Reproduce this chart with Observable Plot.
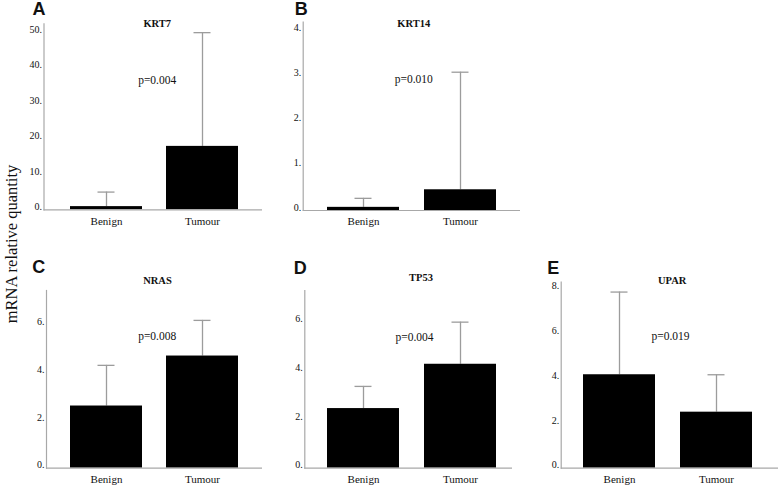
<!DOCTYPE html>
<html>
<head>
<meta charset="utf-8">
<script src="https://cdn.jsdelivr.net/npm/d3@7"></script>
<script src="https://cdn.jsdelivr.net/npm/@observablehq/plot@0.6"></script>
<style>
  html, body { margin: 0; padding: 0; background: #fff; }
  #chart { position: relative; width: 778px; height: 489px; overflow: hidden; background: #fff; }
  #chart svg { position: absolute; left: 0; top: 0; }
  #chart svg text { font-family: "Liberation Serif", "Times New Roman", serif; }
  #chart svg g.letter text { font-family: "Liberation Sans", Arial, sans-serif; }
  #ytitle {
    position: absolute; left: 12px; top: 244px;
    transform: translate(-50%, -50%) rotate(-90deg);
    font-family: "Liberation Serif", "Times New Roman", serif;
    font-size: 16.5px; color: #111; white-space: nowrap;
  }
</style>
</head>
<body>
<div id="chart"><div id="ytitle">mRNA relative quantity</div></div>
<script>
// ---- data ----
const genes = ["KRT7", "KRT14", "NRAS", "TP53", "UPAR"];
const panelLetters = ["A", "B", "C", "D", "E"];
const groups = ["Benign", "Tumour"];
const benignMean = [0.9, 0.07, 2.6, 2.45, 4.17];
const tumourMean = [17.9, 0.46, 4.69, 4.27, 2.5];
const benignUpper = [5.0, 0.27, 4.3, 3.36, 7.86];
const tumourUpper = [50.0, 3.07, 6.18, 6.0, 4.17];
const pLabels = ["p=0.004", "p=0.010", "p=0.008", "p=0.004", "p=0.019"];
const yTicks = [[0, 10, 20, 30, 40, 50], [0, 1, 2, 3, 4], [0, 2, 4, 6], [0, 2, 4, 6], [0, 2, 4, 6, 8]];
const yMax = [52.5, 4.18, 7.43, 7.3, 8.3];

// ---- layout (page pixels) ----
const W = 778, H = 489;
const layout = [
  {L: 43.5, R: 262, T: 23.3, B: 209.3, il: 26.5, ir: 23.7, title: [156.7, 23.3], p: [156.7, 80], letter: [32, 15]},
  {L: 302.7, R: 520, T: 21.7, B: 210, il: 24, ir: 23.3, title: [413.3, 23.3], p: [413.3, 79], letter: [294.3, 15]},
  {L: 46, R: 262, T: 290, B: 467.7, il: 23.3, ir: 24.7, title: [157, 280], p: [156.7, 335.7], letter: [31.7, 273]},
  {L: 304.3, R: 512, T: 290, B: 467.7, il: 22.4, ir: 16, title: [420.5, 277], p: [414, 337.3], letter: [293.3, 274]},
  {L: 560.7, R: 778, T: 281.7, B: 467.7, il: 22, ir: 25.7, title: [671.7, 280], p: [670, 335.7], letter: [546.7, 274]}
];

const serif = "'Liberation Serif', 'Times New Roman', serif";
const sans = "'Liberation Sans', Arial, sans-serif";
const grey = "#9c9c9c";

function panel(i) {
  const lay = layout[i];
  const rows = groups.map((g, j) => ({
    group: g,
    mean: j ? tumourMean[i] : benignMean[i],
    upper: j ? tumourUpper[i] : benignUpper[i]
  }));
  const at = (pt) => ({dx: pt[0] - lay.L, dy: pt[1] - lay.T});
  return Plot.plot({
    width: W, height: H,
    marginLeft: lay.L, marginRight: W - lay.R, marginTop: lay.T, marginBottom: H - lay.B,
    style: {background: "transparent", fontFamily: serif, color: "#111"},
    x: {domain: groups, paddingInner: 0.255, paddingOuter: 0, insetLeft: lay.il, insetRight: lay.ir, label: null},
    y: {domain: [0, yMax[i]], label: null},
    marks: [
      Plot.ruleX(rows, {x: "group", y1: "mean", y2: "upper", stroke: grey, strokeWidth: 1.3}),
      Plot.tickY(rows, {x: "group", y: "upper", stroke: grey, strokeWidth: 1.3, insetLeft: 27.5, insetRight: 27.5}),
      Plot.barY(rows, {x: "group", y: "mean", fill: "#000"}),
      Plot.ruleY([0], {stroke: "#a8a8a8", strokeWidth: 1.2}),
      Plot.frame({anchor: "left", stroke: "#a8a8a8", strokeWidth: 1.2}),
      Plot.axisY({ticks: yTicks[i], tickSize: 0, tickPadding: 2, tickFormat: (d) => d + ".", fontSize: 10, dy: -3, label: null}),
      Plot.axisX({tickSize: 0, tickPadding: 7, fontSize: 11, label: null}),
      Plot.text([genes[i]], {text: (d) => d, frameAnchor: "top-left", ...at(lay.title), textAnchor: "middle", lineAnchor: "middle", fontWeight: "bold", fontSize: 10.5, fontFamily: serif}),
      Plot.text([pLabels[i]], {text: (d) => d, frameAnchor: "top-left", ...at(lay.p), textAnchor: "middle", lineAnchor: "middle", fontSize: 11.5, fontFamily: serif}),
      Plot.text([panelLetters[i]], {text: (d) => d, className: "letter", frameAnchor: "top-left", dx: lay.letter[0] - lay.L, dy: lay.letter[1] - 5.8 - lay.T, textAnchor: "start", lineAnchor: "middle", fontWeight: "bold", fontSize: 18, fontFamily: sans})
    ]
  });
}

const chart = document.getElementById("chart");
genes.forEach((g, i) => {
  const svg = panel(i);
  // mark the panel-letter group so the sans-serif face applies to it
  svg.querySelectorAll("text").forEach((t) => {
    if (panelLetters.includes(t.textContent)) t.parentNode.classList.add("letter");
  });
  chart.appendChild(svg);
});
</script>
</body>
</html>
